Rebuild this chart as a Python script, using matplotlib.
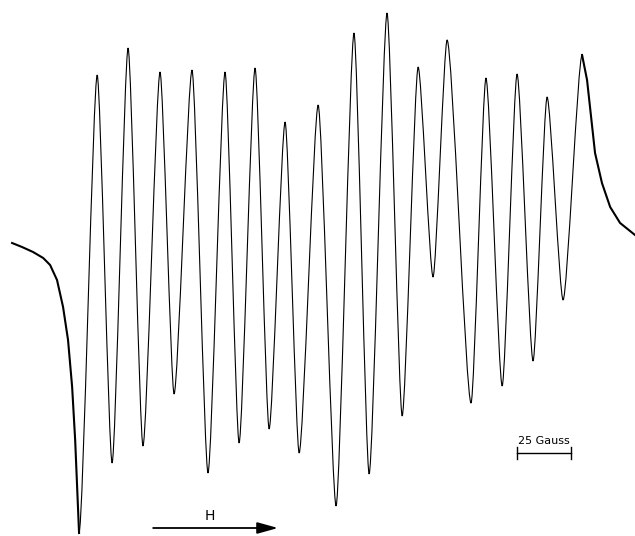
import numpy as np
import matplotlib
matplotlib.use("Agg")
from matplotlib import pyplot as plt
from matplotlib.path import Path
from matplotlib.patches import PathPatch

# EPR spectrum: field in gauss, signal in arbitrary units

# noisy low-field wing, ends in the first trough
wing_field = [0, 4.6, 9.7, 14.4, 17.6, 20.8, 23.6, 25.9, 27.8, 29.2, 31.0]
wing_signal = [27, 23, 18, 12, 5, -10, -37, -70, -117, -170, -263]

# alternating troughs / peaks of the hyperfine lines
ext_field = [31.0, 39.4, 46.3, 53.7, 60.6, 68.5, 75.0, 83.3, 90.7, 98.6,
             105.1, 112.5, 119.0, 126.4, 132.9, 141.7, 150.0, 158.3, 165.3,
             173.6, 180.6, 188.0, 194.9, 201.4, 212.5, 219.4, 226.9, 233.8,
             241.2, 247.7, 255.1, 263.9]
ext_signal = [-263, 195, -193, 222, -176, 198, -124, 200, -203, 198,
              -173, 202, -159, 148, -183, 165, -236, 237, -204,
              257, -146, 203, -7, 230, -133, 192, -116, 196,
              -91, 173, -30, 215]

# high-field tail
tail_field = [263.9, 266.2, 269.9, 273.1, 276.9, 281.5, 288.4]
tail_signal = [215, 190, 117, 87, 63, 47, 35]

scale_gauss = 25

fig = plt.figure(figsize=(6.35, 5.36), dpi=100)
ax = fig.add_axes([0, 0, 1, 1])
ax.set_xlim(-5.6, 288.4)
ax.set_ylim(-266, 270)
ax.axis("off")

ax.plot(wing_field, wing_signal, color="black", lw=1.5)
ax.plot(tail_field, tail_signal, color="black", lw=1.5)

# smooth line between extrema (flat tangent at each turning point)
k = 0.22
verts = [(ext_field[0], ext_signal[0])]
codes = [Path.MOVETO]
for i in range(len(ext_field) - 1):
    x0, y0 = ext_field[i], ext_signal[i]
    x1, y1 = ext_field[i + 1], ext_signal[i + 1]
    dx = x1 - x0
    verts += [(x0 + k * dx, y0), (x1 - k * dx, y1), (x1, y1)]
    codes += [Path.CURVE4] * 3
ax.add_patch(PathPatch(Path(verts, codes), fill=False, color="black", lw=0.8))

# scale bar
x0, x1, yb = 233.8, 233.8 + scale_gauss, -183
ax.plot([x0, x1], [yb, yb], color="black", lw=1)
ax.plot([x0, x0], [yb - 6, yb + 6], color="black", lw=1)
ax.plot([x1, x1], [yb - 6, yb + 6], color="black", lw=1)
ax.text((x0 + x1) / 2, yb + 7, f"{scale_gauss} Gauss", ha="center", va="bottom",
        fontsize=8)

# field direction arrow
ax.annotate("", xy=(123.1, -258), xytext=(65.3, -258),
            arrowprops=dict(arrowstyle="-|>,head_length=0.9,head_width=0.25",
                            color="black", lw=1.3, mutation_scale=14,
                            shrinkA=0, shrinkB=0))
ax.text(91.7, -253, "H", ha="center", va="bottom", fontsize=10)

plt.savefig("out.png", dpi=100)
plt.close()
